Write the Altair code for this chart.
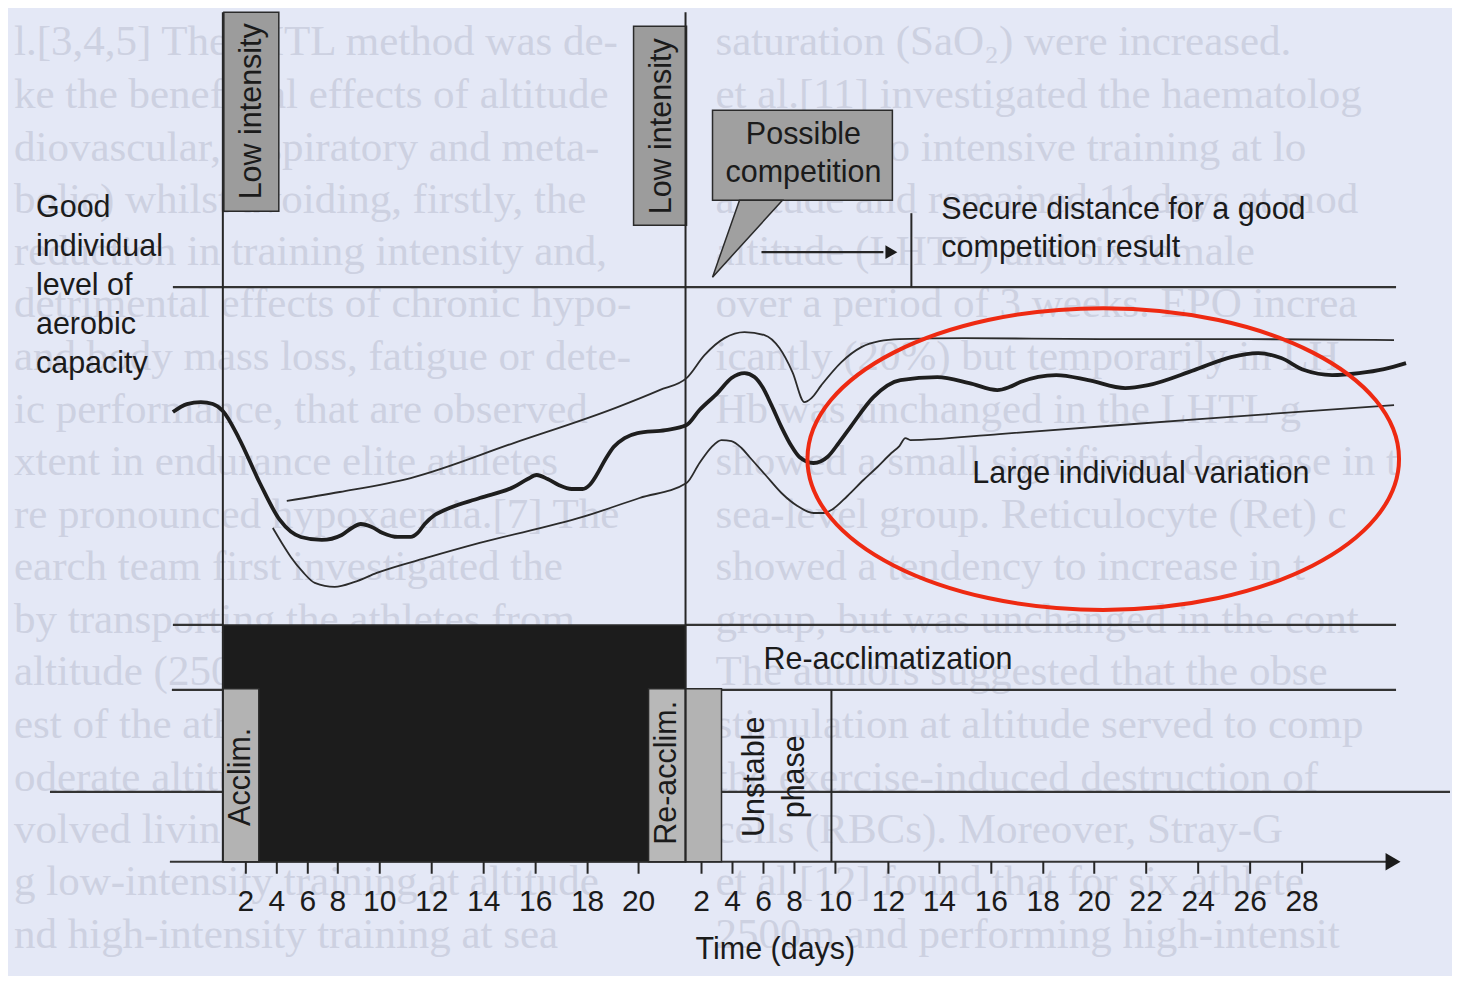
import altair as alt
import pandas as pd

# ------------------------------------------------------------------
# Data (positions, in figure pixel units)
# ------------------------------------------------------------------
# Performance curve (thick) and its individual-variation band (thin lines)
main_x = [173, 187, 201, 213, 223, 239, 260, 280, 301, 322, 342, 352, 361, 372, 383, 398, 411, 418,
          425, 435, 445, 480, 514, 528, 537, 548, 559, 572, 583, 590, 597, 606, 614, 625, 638, 666,
          687, 700, 718, 732, 745, 755, 763, 772, 782, 792, 800, 814, 828, 840, 851, 874, 901, 938,
          970, 998, 1010, 1021, 1057, 1089, 1126, 1149, 1195, 1232, 1259, 1282, 1305, 1333, 1360,
          1385, 1407]
main_y = [412, 404, 402, 404, 411, 438, 483, 520, 537, 540, 535, 528, 524, 527, 533, 537, 537, 533,
          524, 515, 510, 498, 487, 479, 475, 479, 485, 489, 489, 485, 475, 459, 447, 438, 433, 430,
          425, 410, 393, 378, 373, 377, 387, 405, 427, 446, 457, 463, 457, 442, 427, 397, 380, 377,
          383, 390, 387, 382, 375, 380, 388, 385, 370, 357, 353, 358, 370, 375, 373, 369, 363]

upper_x = [287, 340, 411, 514, 618, 660, 687, 705, 725, 745, 765, 780, 793, 805, 812, 822, 842, 862,
           880, 900, 965, 1100, 1250, 1395]
upper_y = [501, 492, 478, 443, 407, 390, 378, 355, 338, 332, 335, 348, 372, 402, 398, 385, 362, 347,
           341, 339, 338, 339, 339, 340]

lower_x = [273, 282, 291, 303, 315, 335, 355, 377, 430, 480, 583, 640, 687, 700, 712, 722, 732, 742,
           750, 766, 782, 798, 814, 824, 832, 848, 864, 878, 892, 900, 906, 911, 1000, 1200, 1395]
lower_y = [528, 543, 557, 572, 583, 587, 582, 573, 557, 543, 517, 498, 483, 463, 447, 440, 441, 448,
           457, 475, 493, 506, 513, 513, 510, 496, 480, 467, 453, 446, 438, 440, 434, 419, 405]

# Time axis (days) - two periods: altitude camp and after return
tick_left_x = [246, 277, 308, 338, 380, 432, 484, 536, 588, 639]
tick_left_lab = ["2", "4", "6", "8", "10", "12", "14", "16", "18", "20"]
tick_right_x = [702, 733, 764, 795, 836, 889, 940, 992, 1044, 1095, 1147, 1199, 1251, 1303]
tick_right_lab = ["2", "4", "6", "8", "10", "12", "14", "16", "18", "20", "22", "24", "26", "28"]

# Horizontal guide lines: start, end, level
hline_x1 = [173, 173, 686, 172, 722, 50, 170]
hline_x2 = [1397, 223, 1397, 223, 1397, 1451, 1388]
hline_y = [287, 625, 625, 690, 690, 792, 862]

# Vertical lines: position, top, bottom
vline_x = [223, 686, 832, 912]
vline_y1 = [12, 12, 690, 213]
vline_y2 = [862, 862, 862, 287]

# Boxes
box_name = ["Low intensity 1", "Low intensity 2", "Possible competition", "Altitude",
            "Acclim.", "Re-acclim.", "Re-acclim. 2"]
box_x1 = [224, 634, 713, 223, 223, 649, 686]
box_x2 = [279, 687, 893, 686, 259, 686, 722]
box_y1 = [12, 26, 110, 625, 689, 689, 689]
box_y2 = [211, 225, 200, 862, 862, 862, 862]
box_fill = ["#9c9c9c", "#9c9c9c", "#a0a0a0", "#1c1c1c", "#b3b3b3", "#b8b8b8", "#b3b3b3"]

# Speech-bubble tail of "Possible competition"
tail_y = [200, 277]
tail_xl = [740, 713]
tail_xr = [783, 713]

# Arrow heads
head_x = [1394, 892]
head_y = [862, 252]
head_size = [300, 190]

# Horizontal labels
lab_text = ["Good", "individual", "level of", "aerobic", "capacity",
            "Secure distance for a good", "competition result",
            "Large individual variation", "Re-acclimatization", "Time (days)"]
lab_x = [36, 36, 36, 36, 36, 942, 942, 973, 764, 696]
lab_y = [208, 247, 286, 325, 364, 210, 248, 474, 660, 950]

box_lab_text = ["Possible", "competition"]
box_lab_x = [804, 804]
box_lab_y = [135, 173]

# Vertical (rotated) labels
vlab_text = ["Low intensity", "Low intensity", "Acclim.", "Re-acclim.", "Unstable", "phase"]
vlab_x = [252, 662, 241, 667, 756, 796]
vlab_y = [111, 126, 777, 773, 777, 777]

# Red ellipse annotation
ell_x = [1104]
ell_y = [459]

# Faded text of the book page showing through the scan
page_left = [
    "l.[3,4,5] The IHTL method was de-",
    "ke the beneficial effects of altitude",
    "diovascular, respiratory and meta-",
    "bolic) whilst avoiding, firstly, the",
    "reduction in training intensity and,",
    "detrimental effects of chronic hypo-",
    "and body mass loss, fatigue or dete-",
    "ic performance, that are observed",
    "xtent in endurance elite athletes",
    "re pronounced hypoxaemia.[7] The",
    "earch team first investigated the",
    "by transporting the athletes from",
    "altitude (2500m) for the",
    "est of the athletes to",
    "oderate altitude (1250m).",
    "volved living at altitude",
    "g low-intensity training at altitude",
    "nd high-intensity training at sea",
]
page_right = [
    "saturation  (SaO\u2082)  were  increased.",
    "et al.[11] investigated the haematolog",
    "response to intensive training at lo",
    "altitude and remained 11 days at mod",
    "altitude (LHTL) and six female",
    "over a period of 3 weeks. EPO increa",
    "icantly (20%) but temporarily in LH",
    "Hb was unchanged in the LHTL g",
    "showed a small significant decrease in t",
    "sea-level group. Reticulocyte (Ret) c",
    "showed a tendency to increase in t",
    "group, but was unchanged in the cont",
    "The authors suggested that the obse",
    "stimulation at altitude served to comp",
    "the exercise-induced destruction of",
    "cells  (RBCs).  Moreover,  Stray-G",
    "et al.[12] found that for six athlete",
    "2500m and performing high-intensit",
]
page_y = [42, 95, 148, 200, 252, 304, 357, 410, 462, 515, 567, 620, 672, 725, 778, 830, 882, 935]

# ------------------------------------------------------------------
# Build tables
# ------------------------------------------------------------------
curve_main = pd.DataFrame({"x": main_x, "y": main_y})
curve_band = pd.concat([
    pd.DataFrame({"x": upper_x, "y": upper_y, "s": "upper"}),
    pd.DataFrame({"x": lower_x, "y": lower_y, "s": "lower"}),
])
ticks = pd.DataFrame({
    "x": tick_left_x + tick_right_x,
    "lab": tick_left_lab + tick_right_lab,
    "y1": 862, "y2": 874, "ly": 902,
})
hlines = pd.DataFrame({"x1": hline_x1, "x2": hline_x2, "y": hline_y})
vlines = pd.DataFrame({"x": vline_x, "y1": vline_y1, "y2": vline_y2})
boxes = pd.DataFrame({"name": box_name, "x1": box_x1, "x2": box_x2,
                      "y1": box_y1, "y2": box_y2, "fill": box_fill})
tail = pd.DataFrame({"y": tail_y, "xl": tail_xl, "xr": tail_xr})
heads = pd.DataFrame({"x": head_x, "y": head_y, "size": head_size})
labels = pd.DataFrame({"text": lab_text, "x": lab_x, "y": lab_y})
box_labels = pd.DataFrame({"text": box_lab_text, "x": box_lab_x, "y": box_lab_y})
vlabels = pd.DataFrame({"text": vlab_text, "x": vlab_x, "y": vlab_y})
ellipse = pd.DataFrame({"x": ell_x, "y": ell_y})
page = pd.concat([
    pd.DataFrame({"text": page_left, "x": 14, "y": page_y}),
    pd.DataFrame({"text": page_right, "x": 716, "y": page_y}),
])

xs = alt.Scale(domain=[8, 1452], nice=False, zero=False)
ys = alt.Scale(domain=[8, 976], nice=False, zero=False, reverse=True)


def X(f):
    return alt.X(f, type="quantitative", scale=xs, axis=None)


def Y(f):
    return alt.Y(f, type="quantitative", scale=ys, axis=None)


FONT = "Liberation Sans"
INK = "#1b1b1b"

page_layer = alt.Chart(page).mark_text(
    font="Liberation Serif", fontSize=43, align="left", baseline="middle", color="#cdd1e1"
).encode(x=X("x"), y=Y("y"), text="text:N")

box_layer = alt.Chart(boxes).mark_rect(stroke="#2a2a2a", strokeWidth=1.5).encode(
    x=X("x1"), x2=alt.X2("x2"), y=Y("y1"), y2=alt.Y2("y2"),
    fill=alt.Fill("fill:N", scale=None),
)

tail_layer = alt.Chart(tail).mark_area(
    orient="horizontal", color="#a0a0a0", stroke="#2a2a2a", strokeWidth=1.5
).encode(y=Y("y"), x=X("xl"), x2=alt.X2("xr"))

hline_layer = alt.Chart(hlines).mark_rule(color="#333333", strokeWidth=2.2).encode(
    x=X("x1"), x2=alt.X2("x2"), y=Y("y")
)
vline_layer = alt.Chart(vlines).mark_rule(color="#262626", strokeWidth=2).encode(
    x=X("x"), y=Y("y1"), y2=alt.Y2("y2")
)
arrow_shaft = alt.Chart(pd.DataFrame({"x1": [762], "x2": [884], "y": [252]})).mark_rule(
    color="#262626", strokeWidth=2.2
).encode(x=X("x1"), x2=alt.X2("x2"), y=Y("y"))

tick_layer = alt.Chart(ticks).mark_rule(color="#262626", strokeWidth=2).encode(
    x=X("x"), y=Y("y1"), y2=alt.Y2("y2")
)
tick_lab_layer = alt.Chart(ticks).mark_text(
    font=FONT, fontSize=30, align="center", baseline="middle", color=INK
).encode(x=X("x"), y=Y("ly"), text="lab:N")

head_layer = alt.Chart(heads).mark_point(
    shape="triangle-right", filled=True, color="#1b1b1b", opacity=1
).encode(x=X("x"), y=Y("y"), size=alt.Size("size:Q", scale=None))

band_layer = alt.Chart(curve_band).mark_line(
    interpolate="monotone", color="#2b2b2b", strokeWidth=1.8
).encode(x=X("x"), y=Y("y"), detail="s:N")

main_layer = alt.Chart(curve_main).mark_line(
    interpolate="monotone", color="#1e1e1e", strokeWidth=3.8
).encode(x=X("x"), y=Y("y"))

label_layer = alt.Chart(labels).mark_text(
    font=FONT, fontSize=30.5, align="left", baseline="middle", color=INK
).encode(x=X("x"), y=Y("y"), text="text:N")

box_label_layer = alt.Chart(box_labels).mark_text(
    font=FONT, fontSize=30.5, align="center", baseline="middle", color=INK
).encode(x=X("x"), y=Y("y"), text="text:N")

vlabel_layer = alt.Chart(vlabels).mark_text(
    font=FONT, fontSize=30.5, align="center", baseline="middle", angle=270, color=INK
).encode(x=X("x"), y=Y("y"), text="text:N")

k = 0.51
c = 0.5523
ellipse_path = (
    f"M -1 0 C -1 {-k*c:.4f} {-c} {-k} 0 {-k} "
    f"C {c} {-k} 1 {-k*c:.4f} 1 0 "
    f"C 1 {k*c:.4f} {c} {k} 0 {k} "
    f"C {-c} {k} -1 {k*c:.4f} -1 0 Z"
)
ellipse_layer = alt.Chart(ellipse).mark_point(
    shape=ellipse_path, size=592 ** 2, filled=False, color="#ee2a12", strokeWidth=4, opacity=1
).encode(x=X("x"), y=Y("y"))

chart = alt.layer(
    page_layer,
    hline_layer,
    box_layer,
    tail_layer,
    vline_layer,
    arrow_shaft,
    tick_layer,
    head_layer,
    band_layer,
    main_layer,
    label_layer,
    box_label_layer,
    vlabel_layer,
    tick_lab_layer,
    ellipse_layer,
).properties(
    width=1444, height=968, padding=0, background="#e4e8f6"
).configure_view(stroke=None)

chart.save("out.html", embed_options={"renderer": "svg", "actions": False})
